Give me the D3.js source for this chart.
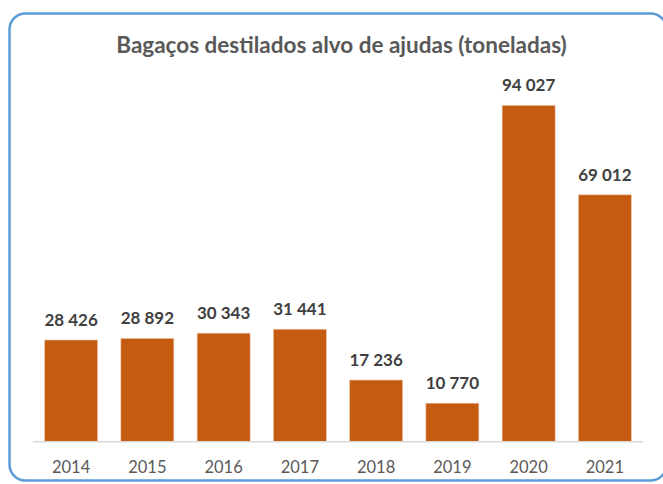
<!DOCTYPE html>
<html><head><meta charset="utf-8">
<script src="https://cdn.jsdelivr.net/npm/d3@7"></script>
<style>html,body{margin:0;padding:0;background:#fff;overflow:hidden;}svg{display:block;}</style>
</head><body>
<script>
const title = "Bagaços destilados alvo de ajudas (toneladas)";
const years = ["2014","2015","2016","2017","2018","2019","2020","2021"];
const values = [28426, 28892, 30343, 31441, 17236, 10770, 94027, 69012];
const labels = ["28 426","28 892","30 343","31 441","17 236","10 770","94 027","69 012"];

const W = 663, H = 484;
const svg = d3.select("body").append("svg").attr("width", W).attr("height", H);

svg.append("rect").attr("x", 9.5).attr("y", 13.5).attr("width", 657).attr("height", 467)
  .attr("rx", 16).attr("fill", "#fff").attr("stroke", "#5B9BD5").attr("stroke-width", 2.5);

const x = d3.scaleBand().domain(years).range([33, 643]).paddingInner(0.305).paddingOuter(0.1525);
const y = d3.scaleLinear().domain([0, 100000]).range([441.7, 84]);

svg.append("text").attr("x", 341.5).attr("y", 53)
  .attr("text-anchor", "middle").attr("font-family", "Lato").attr("font-weight", "bold")
  .attr("font-size", 22.5).attr("fill", "#595959").text(title);

svg.selectAll("rect.bar").data(values).join("rect").attr("class", "bar")
  .attr("x", (d, i) => x(years[i])).attr("width", x.bandwidth())
  .attr("y", d => y(d)).attr("height", d => y(0) - y(d))
  .attr("fill", "#C55A11").attr("stroke", "#F2C7A8").attr("stroke-width", 0.6);

svg.append("line").attr("x1", 33).attr("x2", 643).attr("y1", 441.7).attr("y2", 441.7)
  .attr("stroke", "#D9D9D9").attr("stroke-width", 1.5);

svg.selectAll("text.lbl").data(values).join("text").attr("class", "lbl")
  .attr("x", (d, i) => x(years[i]) + x.bandwidth() / 2).attr("y", d => y(d) - 14)
  .attr("text-anchor", "middle").attr("font-family", "Lato").attr("font-weight", "bold")
  .attr("font-size", 17).attr("fill", "#404040").text((d, i) => labels[i]);

const axis = d3.axisBottom(x).tickSize(0).tickPadding(0);
const g = svg.append("g").attr("transform", "translate(0,441.7)").call(axis);
g.select(".domain").remove();
g.selectAll("text").attr("dy", null).attr("y", 31).attr("font-family", "Lato")
  .attr("font-size", 16.5).attr("fill", "#595959");
</script>
</body></html>
